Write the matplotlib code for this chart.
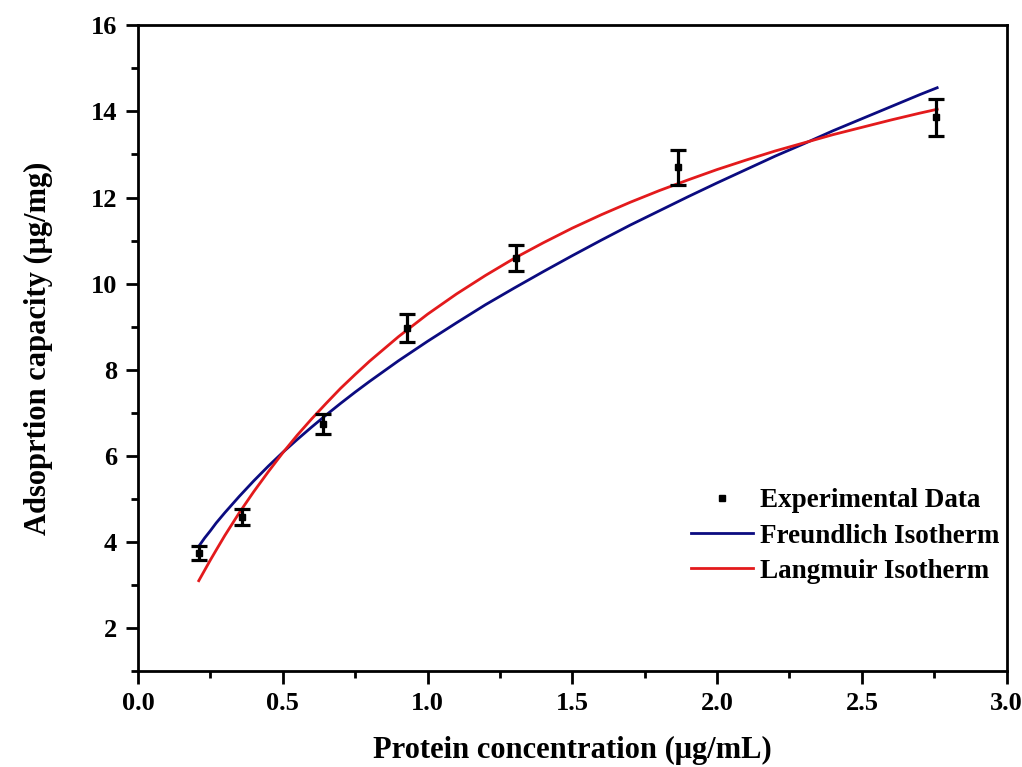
import matplotlib
matplotlib.use('Agg')
import matplotlib.pyplot as plt
from matplotlib.lines import Line2D
from matplotlib.ticker import MultipleLocator

plt.rcParams['font.family'] = ['Liberation Serif', 'DejaVu Serif']
plt.rcParams['font.weight'] = 'bold'

# experimental points
conc = [0.21, 0.36, 0.64, 0.93, 1.305, 1.865, 2.755]
capacity = [3.74, 4.58, 6.74, 8.97, 10.60, 12.70, 13.87]
cap_err = [0.17, 0.19, 0.24, 0.32, 0.30, 0.40, 0.43]

# fitted isotherm curves
fit_x = [0.21, 0.23, 0.25, 0.27, 0.30, 0.35, 0.40, 0.45, 0.50, 0.55, 0.60, 0.65,
         0.70, 0.75, 0.80, 0.90, 1.00, 1.10, 1.20, 1.30, 1.40, 1.50, 1.60, 1.70,
         1.80, 1.90, 2.00, 2.10, 2.20, 2.30, 2.40, 2.50, 2.60, 2.70, 2.76]
freundlich_y = [3.90, 4.09, 4.26, 4.44, 4.68, 5.06, 5.42, 5.76, 6.08, 6.38, 6.67, 6.95,
                7.22, 7.48, 7.73, 8.21, 8.66, 9.09, 9.51, 9.90, 10.28, 10.65, 11.01, 11.36,
                11.69, 12.02, 12.34, 12.65, 12.96, 13.25, 13.55, 13.83, 14.11, 14.39, 14.55]
langmuir_y = [3.10, 3.34, 3.58, 3.81, 4.15, 4.68, 5.17, 5.63, 6.07, 6.48, 6.86, 7.22,
              7.57, 7.89, 8.20, 8.77, 9.29, 9.76, 10.19, 10.59, 10.95, 11.29, 11.60, 11.89,
              12.16, 12.41, 12.65, 12.87, 13.08, 13.27, 13.46, 13.63, 13.80, 13.96, 14.05]

fig = plt.figure(figsize=(10.22, 7.67), dpi=100)
ax = fig.add_axes([0.135, 0.125, 0.85, 0.842])

ax.errorbar(conc, capacity, yerr=cap_err, fmt='s', color='black', markersize=5,
            ecolor='black', elinewidth=2.3, capsize=5.5, capthick=2.3, zorder=5)
ax.plot(fit_x, freundlich_y, color='#0b0b80', lw=2.0)
ax.plot(fit_x, langmuir_y, color='#e31a1c', lw=2.0)

ax.set_xlim(0, 3.0)
ax.set_ylim(1, 16)
ax.xaxis.set_major_locator(MultipleLocator(0.5))
ax.xaxis.set_minor_locator(MultipleLocator(0.25))
ax.yaxis.set_minor_locator(MultipleLocator(1))
ax.set_yticks([2, 4, 6, 8, 10, 12, 14, 16])

for s in ax.spines.values():
    s.set_linewidth(2)
ax.tick_params(which='major', direction='out', length=9, width=2, labelsize=19, pad=6,
               top=False, right=False)
ax.tick_params(which='minor', direction='out', length=5, width=2, top=False, right=False)

ax.set_xlabel('Protein concentration (μg/mL)', fontsize=22, fontweight='bold', labelpad=15)
ax.set_ylabel('Adsoprtion capacity (μg/mg)', fontsize=22, fontweight='bold', labelpad=27)

handles = [
    Line2D([], [], ls='none', marker='s', color='black', markersize=5),
    Line2D([], [], color='#0b0b80', lw=2.0),
    Line2D([], [], color='#e31a1c', lw=2.0),
]
labels = ['Experimental Data', 'Freundlich Isotherm', 'Langmuir Isotherm']
ax.legend(handles, labels, loc='upper right', bbox_to_anchor=(1.004, 0.30), frameon=False,
          fontsize=19.5, handlelength=2.3, handletextpad=0.25, labelspacing=0.38,
          borderaxespad=0)

fig.savefig('out.png', dpi=100)
